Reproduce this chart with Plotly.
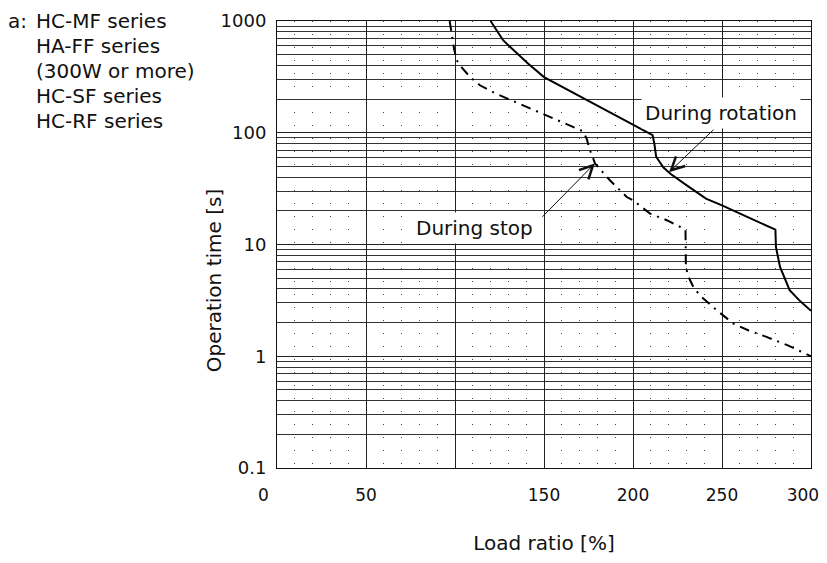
import plotly.graph_objects as go

# load ratio [%] vs operation time [s]
rot_load = [120, 127, 133, 141, 150, 170, 190, 211, 212, 213, 217, 221, 230, 241,
            250, 260, 270, 280, 280.3, 282.6, 288, 294, 300]
rot_time = [1000, 673, 547, 416, 315, 212, 144, 95, 80, 61, 49, 43, 34, 25.7,
            22.4, 18.8, 16, 13.6, 9.5, 6.3, 3.9, 3.1, 2.55]

stop_load = [97, 98, 99.5, 101, 104, 108.5, 114, 123, 133, 142, 151.5, 162, 172,
             174, 175.8, 178.7, 187, 196.5, 200, 209.6, 219, 229.5, 229.7, 231,
             233.9, 237.6, 247, 256.4, 265, 275, 287, 300]
stop_time = [1000, 770, 560, 445, 380, 315, 266, 224, 191, 166, 142, 120, 103,
             88, 70, 53, 37.6, 26.6, 24.9, 18.9, 16.5, 13.6, 6.3, 5.2,
             4.17, 3.5, 2.58, 1.96, 1.7, 1.49, 1.25, 1.0]

NBSP = "\u00a0"
x_ticks = [0, 50, 100, 150, 200, 250, 300]
x_labels = ["0" + NBSP * 5, "50", "", "150", "200", "250", "300" + NBSP * 3]
y_ticks = [0.1, 1, 10, 100, 1000]
y_labels = ["0.1", "1", "10", "100", "1000"]
y_minor = [m * d for d in (0.1, 1, 10, 100) for m in range(2, 10)]

series_lines = ["HC-MF series", "HA-FF series", "(300W or more)", "HC-SF series", "HC-RF series"]

FONT = "DejaVu Sans"

fig = go.Figure()
fig.add_trace(go.Scatter(x=rot_load, y=rot_time, mode="lines",
                         line=dict(color="black", width=2), name="During rotation"))
fig.add_trace(go.Scatter(x=stop_load, y=stop_time, mode="lines",
                         line=dict(color="black", width=2, dash="10px,6px,2px,6px"),
                         name="During stop"))

# page body has an 8px margin: figure sized so the page never scrolls
fig.update_layout(
    width=819, height=547,
    margin=dict(l=269, r=16, t=13, b=87),
    paper_bgcolor="white", plot_bgcolor="white",
    showlegend=False,
    font=dict(family=FONT, size=18, color="#111"),
    xaxis=dict(
        range=[0, 300], tickmode="array", tickvals=x_ticks, ticktext=x_labels,
        ticks="", ticklabelstandoff=12, tickfont=dict(size=17),
        ticklabeloverflow="allow", automargin=False,
        showgrid=True, gridcolor="#222", gridwidth=1, zeroline=False,
        showline=True, linecolor="#111", linewidth=1, mirror=True,
        minor=dict(dtick=10, tick0=0, showgrid=True, gridcolor="#444",
                   gridwidth=1, griddash="1px,12px"),
        title=dict(text="Load ratio [%]", font=dict(size=20), standoff=32),
    ),
    yaxis=dict(
        type="log", range=[-1, 3], tickmode="array", tickvals=y_ticks, ticktext=y_labels,
        ticks="", ticklabelstandoff=6, automargin=False,
        showgrid=True, gridcolor="#222", gridwidth=1, zeroline=False,
        showline=True, linecolor="#111", linewidth=1, mirror=True,
        minor=dict(tickmode="array", tickvals=y_minor, showgrid=True,
                   gridcolor="#333", gridwidth=1),
    ),
)

fig.add_annotation(text="Operation time [s]", xref="paper", yref="paper",
                   x=-0.118, y=0.42, xanchor="center", yanchor="middle",
                   textangle=-90, showarrow=False, font=dict(size=20))
fig.add_annotation(text="a:", xref="paper", yref="paper", x=-0.507, y=1.0,
                   xanchor="left", yanchor="middle", showarrow=False,
                   font=dict(size=20))
for i, line in enumerate(series_lines):
    fig.add_annotation(text=line, xref="paper", yref="paper",
                       x=-0.4556, y=1.0 - i * 25 / 447,
                       xanchor="left", yanchor="middle", showarrow=False,
                       font=dict(size=20))

# curve labels (log axis: y given as log10)
fig.add_annotation(text="During rotation", x=249.4, y=2.174, showarrow=False,
                   bgcolor="white", borderpad=3, font=dict(size=20))
fig.add_annotation(text="During stop", x=110.7, y=1.145, showarrow=False,
                   bgcolor="white", borderpad=3, font=dict(size=20))
fig.add_annotation(text="", x=220.2, y=1.646, ax=46, ay=-44, showarrow=True,
                   arrowhead=5, arrowsize=2.6, arrowwidth=1, arrowcolor="#111")
fig.add_annotation(text="", x=178.65, y=1.727, ax=-54, ay=55, showarrow=True,
                   arrowhead=5, arrowsize=2.6, arrowwidth=1, arrowcolor="#111")

fig.write_html("out.html")
